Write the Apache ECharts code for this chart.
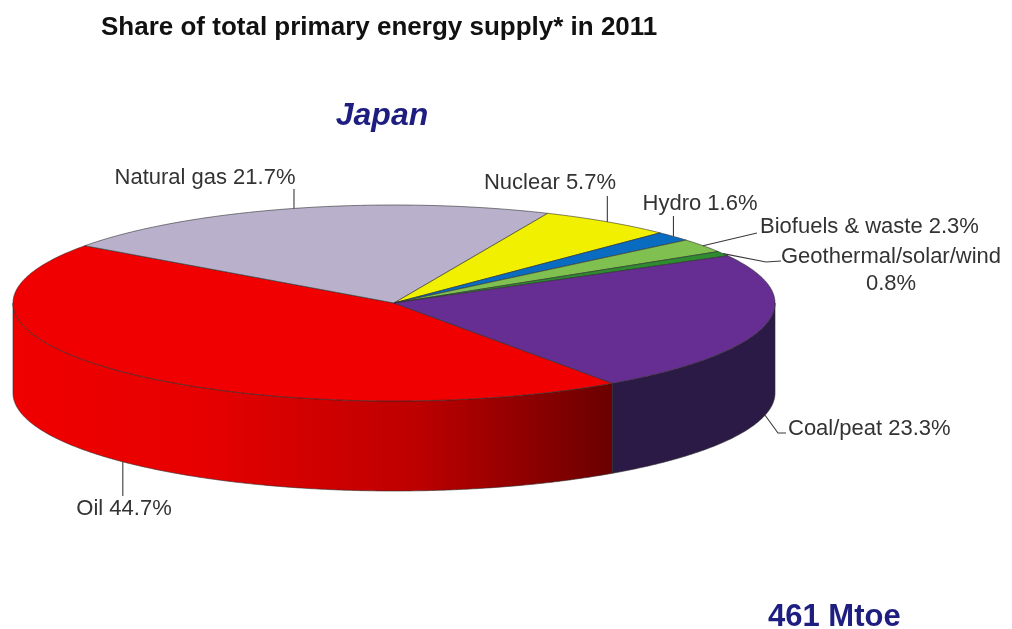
<!DOCTYPE html>
<html>
<head>
<meta charset="utf-8">
<script src="https://cdn.jsdelivr.net/npm/echarts@6/dist/echarts.min.js"></script>
<style>
  html, body { margin: 0; padding: 0; background: #ffffff; }
  #chart { width: 1012px; height: 629px; }
</style>
</head>
<body>
<div id="chart"></div>
<script>
// Share of total primary energy supply, Japan 2011 (%)
const categories = ['Oil', 'Natural gas', 'Nuclear', 'Hydro', 'Biofuels & waste', 'Geothermal/solar/wind', 'Coal/peat'];
const shares = [44.7, 21.7, 5.7, 1.6, 2.3, 0.8, 23.3];
const titleText = 'Share of total primary energy supply* in 2011';
const countryText = 'Japan';
const totalText = '461 Mtoe';

// Slice colours: top face and side wall
const topColors = ['#f00000', '#b9b1cc', '#f0f000', '#0a6cc0', '#80c050', '#2e8b30', '#662d92'];
const sideColors = [null, '#8c8699', '#b4b400', '#06508f', '#5f903c', '#1f6322', '#2c1a46'];

// Tilted disc geometry (pixels / degrees, clockwise on screen from 3 o'clock)
const PIE = { cx: 394, cy: 303, rx: 381, ry: 98, depth: 90, start: 55 };

// Label placement: text anchor and leader path (leader starts on the slice)
const labelLayout = [
  { x: 124, y: 509, align: 'center', sep: ' ', vertTo: 496 },
  { x: 205, y: 178, align: 'center', sep: ' ', vertTo: 189 },
  { x: 550, y: 183, align: 'center', sep: ' ', vertTo: 196 },
  { x: 700, y: 204, align: 'center', sep: ' ', vertTo: 216 },
  { x: 760, y: 227, align: 'left', sep: ' ', path: [[757, 233]] },
  { x: 891, y: 270.5, align: 'center', sep: '\n', path: [[766, 262], [781, 261]] },
  { x: 788, y: 429, align: 'left', sep: ' ', path: [[778, 433], [786, 433]] }
];

const total = shares.reduce((a, b) => a + b, 0);
const startAngles = [];
(function () {
  let acc = PIE.start;
  shares.forEach(v => { startAngles.push(acc); acc += v / total * 360; });
})();

const EDGE = 'rgba(45,45,45,0.85)';
const LABEL_FONT = '22px "Liberation Sans", Arial, sans-serif';

function pt(deg, dy) {
  const r = deg * Math.PI / 180;
  return [PIE.cx + PIE.rx * Math.cos(r), PIE.cy + PIE.ry * Math.sin(r) + (dy || 0)];
}
function arc(s, e, dy) {
  const n = Math.max(2, Math.ceil((e - s) / 0.5));
  const out = [];
  for (let k = 0; k <= n; k++) out.push(pt(s + (e - s) * k / n, dy));
  return out;
}

function renderItem(params, api) {
  const i = params.dataIndex;
  const value = api.value(0);
  const a0 = startAngles[i];
  const a1 = a0 + value / total * 360;
  const children = [];

  // side wall: only the front half of the rim is visible
  [0, 360].forEach(base => {
    const s = Math.max(a0, base), e = Math.min(a1, base + 180);
    if (e > s) {
      const top = arc(s, e, 0);
      const bottom = arc(s, e, PIE.depth).reverse();
      let fill = sideColors[i];
      if (!fill) {
        fill = new echarts.graphic.LinearGradient(PIE.cx - PIE.rx, 0, 612, 0, [
          { offset: 0, color: '#f00000' },
          { offset: 0.32, color: '#e60000' },
          { offset: 0.68, color: '#bc0000' },
          { offset: 1, color: '#6a0000' }
        ], true);
      }
      children.push({
        type: 'polygon',
        shape: { points: top.concat(bottom) },
        style: { fill: fill, stroke: EDGE, lineWidth: 0.7 }
      });
    }
  });

  // top face
  children.push({
    type: 'polygon',
    shape: { points: [[PIE.cx, PIE.cy]].concat(arc(a0, a1, 0)) },
    style: { fill: topColors[i], stroke: EDGE, lineWidth: 0.7 }
  });

  // leader line from the slice rim to its label
  const mid = (a0 + a1) / 2;
  const front = Math.sin(mid * Math.PI / 180) > 0;
  const anchor = pt(mid, front ? PIE.depth : 0);
  const L = labelLayout[i];
  const pts = [anchor];
  if (L.vertTo != null) pts.push([anchor[0], L.vertTo]);
  else L.path.forEach(p => pts.push(p));
  children.push({
    type: 'polyline',
    shape: { points: pts },
    style: { stroke: '#3a3a3a', lineWidth: 1.1, fill: null }
  });

  const text = categories[i] + L.sep + value.toFixed(1) + '%';
  children.push({
    type: 'text',
    style: {
      text: text, x: L.x, y: L.y,
      font: LABEL_FONT, fill: '#333333',
      align: L.align, textAlign: L.align,
      verticalAlign: 'middle', textVerticalAlign: 'middle',
      lineHeight: 27
    }
  });

  return { type: 'group', children: children };
}

const chart = echarts.init(document.getElementById('chart'), null, { renderer: 'canvas' });
chart.setOption({
  animation: false,
  backgroundColor: '#ffffff',
  graphic: [
    {
      type: 'text', x: 101, y: 28,
      style: {
        text: titleText, font: 'bold 26px "Liberation Sans", Arial, sans-serif',
        fill: '#111111', textVerticalAlign: 'middle', verticalAlign: 'middle'
      }
    },
    {
      type: 'text', x: 382, y: 116,
      style: {
        text: countryText, font: 'italic bold 32px "Liberation Sans", Arial, sans-serif',
        fill: '#1e1e80', textAlign: 'center', align: 'center',
        textVerticalAlign: 'middle', verticalAlign: 'middle'
      }
    },
    {
      type: 'text', x: 768, y: 617,
      style: {
        text: totalText, font: 'bold 31px "Liberation Sans", Arial, sans-serif',
        fill: '#1e1e80', textVerticalAlign: 'middle', verticalAlign: 'middle'
      }
    }
  ],
  series: [{
    type: 'custom',
    coordinateSystem: 'none',
    renderItem: renderItem,
    data: shares.map((v, i) => ({ name: categories[i], value: [v] }))
  }]
});
</script>
</body>
</html>
